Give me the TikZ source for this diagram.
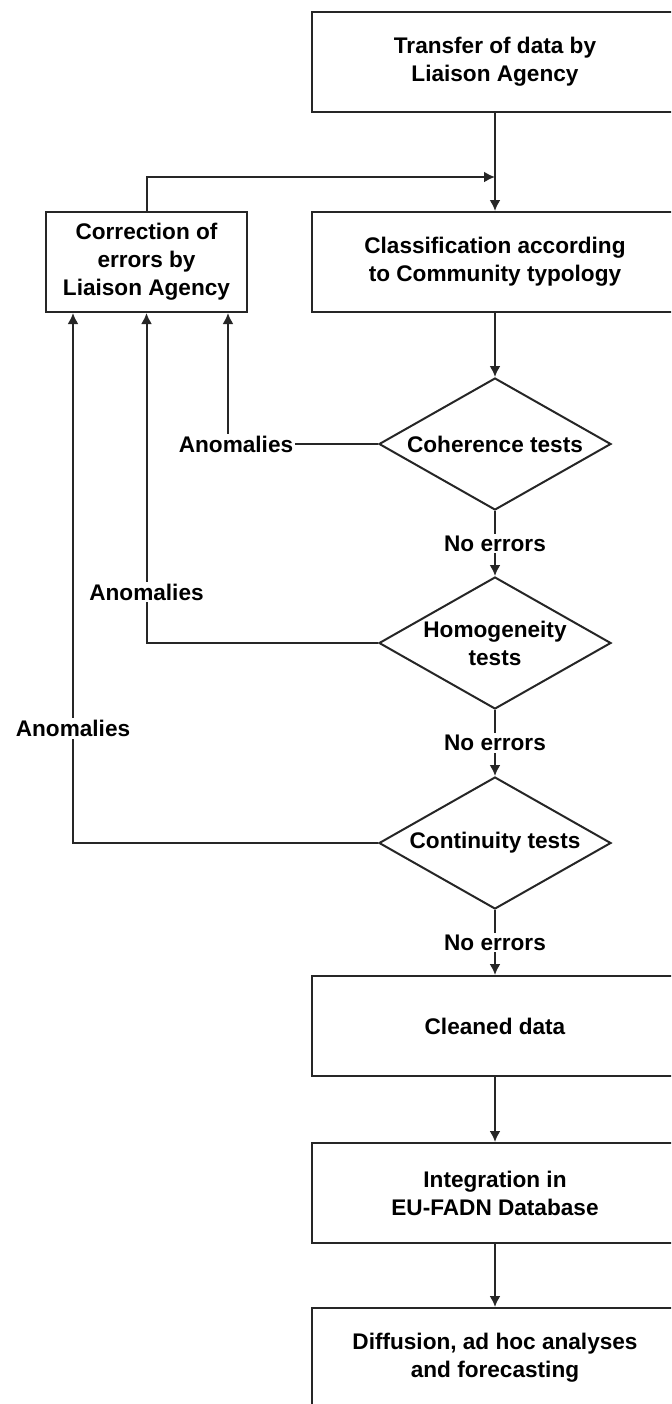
\documentclass[tikz,border=0pt]{standalone}
\usepackage{fontspec}
\setmainfont{Liberation Sans}
\usetikzlibrary{shapes.geometric,arrows.meta}

\tikzset{
    box/.style={draw, rectangle, minimum width=183pt, minimum height=50pt, align=center, inner sep=2pt},
    test/.style={draw, diamond, aspect=1.76, minimum width=116pt, minimum height=66pt, align=center, inner sep=0pt},
    lbl/.style={fill=white, inner sep=1pt},
    arr/.style={-{Latex[length=5.5pt,width=5.5pt]}},
}

\begin{document}
\begin{tikzpicture}[x=0.5pt, y=-0.5pt, line width=1pt, draw=black!85, font=\fontsize{11.3}{14}\selectfont\bfseries]
    \useasboundingbox (0,0) rectangle (671,1404);
    \clip (0,0) rectangle (671,1404);

    % main column
    \node[box] (transfer) at (495,62) {Transfer of data by\\Liaison Agency};
    \node[box] (classif) at (495,262) {Classification according\\to Community typology};
    \node[box, minimum width=100.5pt] (correct) at (146.5,262) {Correction of\\errors by\\Liaison Agency};
    \node[test] (coher) at (495,444) {Coherence tests};
    \node[test] (homog) at (495,643) {Homogeneity\\tests};
    \node[test] (contin) at (495,843) {Continuity tests};
    \node[box] (cleaned) at (495,1026) {Cleaned data};
    \node[box] (integ) at (495,1193) {Integration in\\EU-FADN Database};
    \node[box] (diffus) at (495,1358) {Diffusion, ad hoc analyses\\and forecasting};

    \coordinate (join) at (495,177);
    \draw (transfer) -- (join);
    \draw[arr] (join) -- (classif);
    \draw[arr] (correct.north) |- (join);
    \draw[arr] (classif) -- (coher);

    \draw[arr] (coher.south) -- node[lbl] {No errors} (homog.north);
    \draw[arr] (homog.south) -- node[lbl] {No errors} (contin.north);
    \draw[arr] (contin.south) -- node[lbl] {No errors} (cleaned.north);
    \draw[arr] (cleaned) -- (integ);
    \draw[arr] (integ) -- (diffus);

    % anomalies back to correction
    \draw[arr] (coher.west) -| node[lbl, pos=0.5, xshift=4pt] {Anomalies} ([xshift=-10pt]correct.south east);
    \draw[arr] (homog.west) -| node[lbl, pos=0.577] {Anomalies} (correct.south);
    \draw[arr] (contin.west) -| node[lbl, pos=0.608] {Anomalies} ([xshift=14pt]correct.south west);
\end{tikzpicture}
\end{document}
